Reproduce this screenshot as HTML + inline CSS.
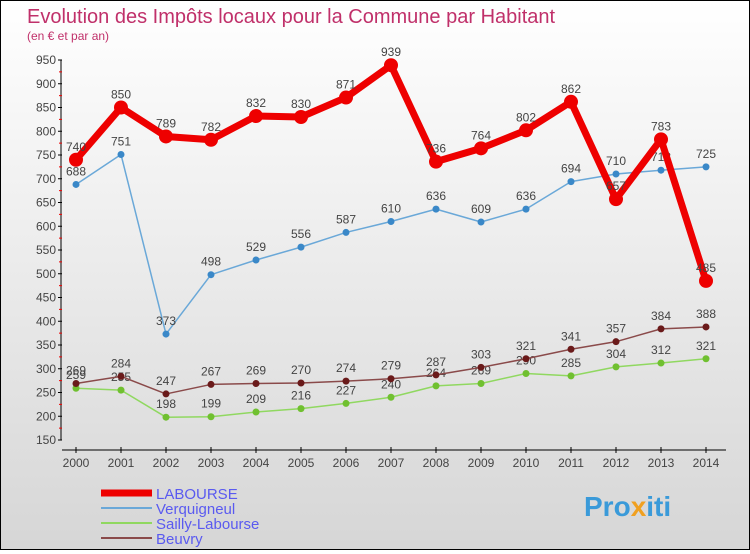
<!DOCTYPE html>
<html><head><meta charset="utf-8"><style>
html,body{margin:0;padding:0}
body{width:750px;height:550px;overflow:hidden;font-family:"Liberation Sans",sans-serif}
#wrap{position:relative;width:748px;height:548px;border:1px solid #000;background:linear-gradient(#ffffff,#d6d6d6)}
</style></head><body>
<div id="wrap">
<svg id="chart" width="748" height="548">
<text x="26" y="22" font-size="20" fill="#c0306a">Evolution des Impôts locaux pour la Commune par Habitant</text>
<text x="26" y="39" font-size="12" fill="#c0306a">(en € et par an)</text>
<g id="axes"></g><g id="series"></g><g id="legend"></g>
<text x="583" y="515" font-size="28" font-weight="bold" fill="#3a9ad9">Pro<tspan fill="#f0a020">x</tspan>iti</text>
</svg></div>
<script>
const years=[2000,2001,2002,2003,2004,2005,2006,2007,2008,2009,2010,2011,2012,2013,2014];
const labourse=[740,850,789,782,832,830,871,939,736,764,802,862,657,783,485];
const verquigneul=[688,751,373,498,529,556,587,610,636,609,636,694,710,718,725];
const sailly=[259,255,198,199,209,216,227,240,264,269,290,285,304,312,321];
const beuvry=[269,284,247,267,269,270,274,279,287,303,321,341,357,384,388];
const yTicks=[150,200,250,300,350,400,450,500,550,600,650,700,750,800,850,900,950];
const NS="http://www.w3.org/2000/svg";
const X=i=>75+i*45, Y=v=>439-(v-150)*380/800;
function mk(tag,attrs,parent){const e=document.createElementNS(NS,tag);for(const k in attrs)e.setAttribute(k,attrs[k]);parent.appendChild(e);return e;}
const ax=document.getElementById('axes');
let e=mk('line',{x1:60,y1:Y(950),x2:60,y2:Y(150),stroke:'#000'},ax);


e=mk('line',{x1:61,y1:449,x2:725,y2:449,stroke:'#000'},ax);


yTicks.forEach(v=>{
 mk('line',{x1:57,y1:Y(v),x2:61,y2:Y(v),stroke:'#000'},ax);
 if(v<950)mk('line',{x1:58,y1:Y(v+25),x2:61,y2:Y(v+25),stroke:'#e00'},ax);
 const t=mk('text',{x:55,y:Y(v)+4,'font-size':12,fill:'#444','text-anchor':'end'},ax);t.textContent=v;
 
 
});
years.forEach((y,i)=>{
 mk('line',{x1:X(i),y1:446,x2:X(i),y2:452,stroke:'#000'},ax);
 const t=mk('text',{x:X(i),y:466,'font-size':12,fill:'#444','text-anchor':'middle'},ax);t.textContent=y;
 
 
});
const sg=document.getElementById('series');
function series(data,color,w,r,dot,name){
 const g=mk('g',{},sg);
 
 
 const l=mk('polyline',{points:data.map((v,i)=>X(i)+','+Y(v)).join(' '),fill:'none',stroke:color,'stroke-width':w,'stroke-linejoin':'round'},g);
 
 
 data.forEach((v,i)=>{
  const c=mk('circle',{cx:X(i),cy:Y(v),r:r,fill:dot},g);
  
  
  const t=mk('text',{x:X(i),y:Y(v)-9,'font-size':12,fill:'#444','text-anchor':'middle'},g);t.textContent=v;
  
  
 });
}
series(sailly,'#90d860',1.5,3.5,'#70c030','sailly-labourse');
series(beuvry,'#8a4a4a',1.5,3.5,'#6a1a1a','beuvry');
series(verquigneul,'#6aa8d8',1.5,3.5,'#3a88c8','verquigneul');
series(labourse,'#ee0000',7,7,'#ee0000','labourse');
const lg=document.getElementById('legend');
[['LABOURSE','#ee0000',7],['Verquigneul','#6aa8d8',2],['Sailly-Labourse','#90d860',2],['Beuvry','#8a4a4a',2]].forEach((d,i)=>{
 const y=492+i*15;
 const l=mk('line',{x1:100,y1:y,x2:151,y2:y,stroke:d[1],'stroke-width':d[2]},lg);
 
 
 const t=mk('text',{x:155,y:y+6,'font-size':15,fill:'#5a5af0'},lg);t.textContent=d[0];
 
 
});
</script>
</body></html>
